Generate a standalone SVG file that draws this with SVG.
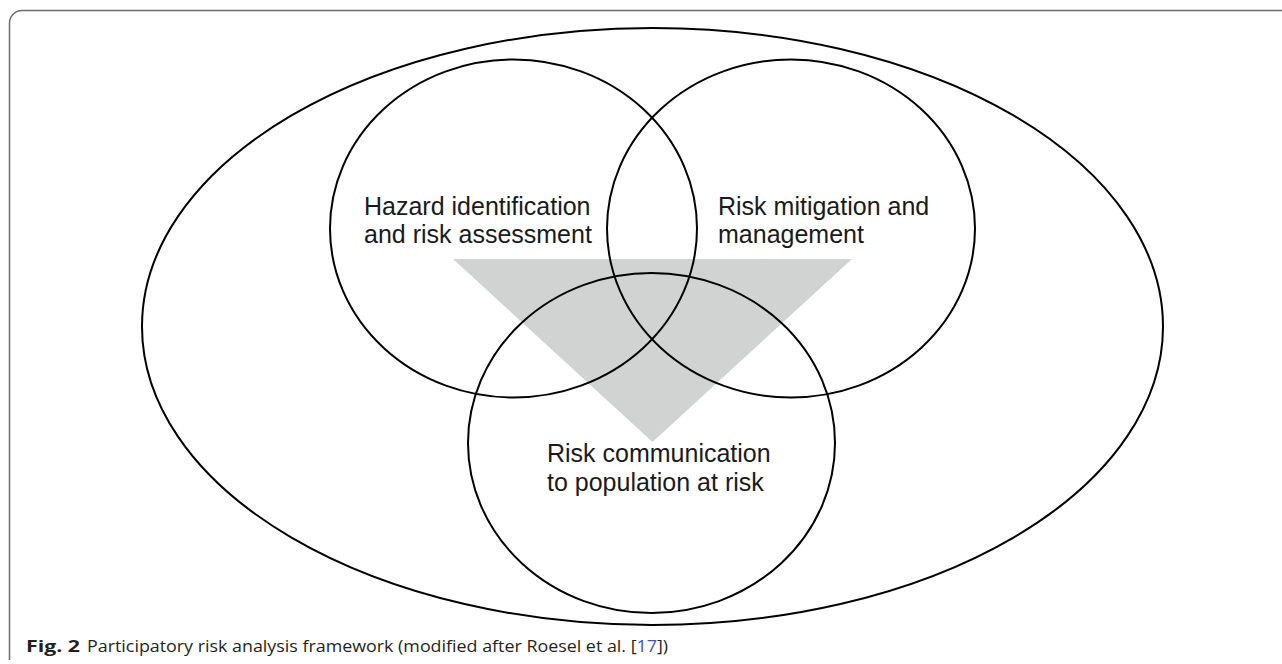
<svg xmlns="http://www.w3.org/2000/svg" width="1282" height="664" viewBox="0 0 1282 664">
  <style>
    .ring { fill: none; stroke: #000; stroke-width: 2; }
    .label { font-family: "Liberation Sans", Arial, sans-serif; font-size: 25px; fill: #1a1a1a; }
    .cap { font-family: "Open Sans", "Liberation Sans", sans-serif; font-size: 16px; fill: #231f20; }
  </style>
  <rect width="1282" height="664" fill="#fff"/>

  <!-- page frame (open at the right and bottom) -->
  <path d="M9.5,660 V23 A12.5,12.5 0 0 1 22,10.5 H1282" fill="none" stroke="#6b6b6b" stroke-width="1.5"/>

  <!-- shaded overlap wedge -->
  <polygon id="wedge" points="453,259 852,259 652.5,442" fill="#d1d3d3"/>

  <!-- enclosing participation ellipse -->
  <g id="outer">
    <ellipse class="ring" cx="652.5" cy="326.5" rx="510.5" ry="298.5"/>
  </g>

  <g id="hazard">
    <ellipse class="ring" cx="513.5" cy="228.5" rx="183.5" ry="169"/>
    <text class="label" x="364" y="214.5">Hazard identification</text>
    <text class="label" x="364" y="243">and risk assessment</text>
  </g>

  <g id="mitigation">
    <ellipse class="ring" cx="791" cy="228.5" rx="184" ry="169"/>
    <text class="label" x="718" y="214.5">Risk mitigation and</text>
    <text class="label" x="718" y="243">management</text>
  </g>

  <g id="communication">
    <ellipse class="ring" cx="651.5" cy="443" rx="183.5" ry="170"/>
    <text class="label" x="547" y="462">Risk communication</text>
    <text class="label" x="547" y="490.5">to population at risk</text>
  </g>

  <g id="connectors"/>

  <!-- caption -->
  <text class="cap" x="26" y="652" font-weight="bold" textLength="54" lengthAdjust="spacingAndGlyphs">Fig. 2</text>
  <text class="cap" x="87" y="652" textLength="581" lengthAdjust="spacingAndGlyphs">Participatory risk analysis framework (modified after Roesel et al. [<tspan fill="#3a4fd8">17</tspan>])</text>
</svg>
